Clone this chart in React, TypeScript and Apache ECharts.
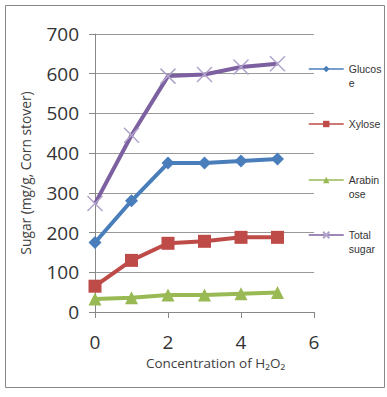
import React, { useEffect, useRef } from "react";
import * as echarts from "echarts";

const xValues = [0, 1, 2, 3, 4, 5];
const glucose = [175, 280, 375, 375, 380, 385];
const xylose = [65, 130, 173, 178, 188, 188];
const arabinose = [33, 36, 43, 43, 46, 49];
const totalSugar = [273, 445, 594, 598, 617, 625];

const seriesNames = ["Glucose", "Xylose", "Arabinose", "Total sugar"];
const legendLabels = ["Glucos\ne", "Xylose", "Arabin\nose", "Total\nsugar"];
const xTicks = { min: 0, max: 6, interval: 2 };
const yTicks = { min: 0, max: 700, interval: 100 };

const pair = (vals: number[]) => xValues.map((x, i) => [x, vals[i]]);

export default function App() {
  const ref = useRef<HTMLDivElement>(null);
  useEffect(() => {
    if (!ref.current) return;
    const chart = echarts.init(ref.current, undefined, { renderer: "svg" });
    const font = "'Open Sans', 'Liberation Sans', sans-serif";
    const legendFont = "'Liberation Sans', Arial, sans-serif";
    const crossPath = "path://M0,0L10,10M10,0L0,10";
    const iconCenters = [69, 124, 180, 235];
    const legends = seriesNames.map((n, i) => {
      const two = legendLabels[i].includes("\n");
      const label = two ? " \n" + legendLabels[i] : legendLabels[i];
      const h = two ? 42 : 14;
      return {
        data: [n],
        left: 308,
        top: iconCenters[i] - h / 2,
        padding: 0,
        itemWidth: 35,
        itemHeight: 8,
        lineStyle: { width: 1.5 },
        formatter: () => label,
        textStyle: {
          fontFamily: legendFont,
          fontSize: 10.5,
          color: "#333",
          lineHeight: 14,
        },
      };
    });
    chart.setOption({
      animation: false,
      backgroundColor: "#fff",
      graphic: [
        {
          type: "rect",
          shape: { x: 5.5, y: 5.5, width: 379, height: 382 },
          style: { fill: "none", stroke: "#888", lineWidth: 1 },
        },
      ],
      legend: legends,
      grid: { left: 95, right: 73, top: 34, bottom: 85 },
      xAxis: {
        type: "value",
        ...xTicks,
        name: "Concentration of H₂O₂",
        nameLocation: "middle",
        nameGap: 41,
        nameTextStyle: { fontFamily: font, fontSize: 13.5, color: "#404040", padding: [0, 0, 0, 22] },
        axisLine: { show: true, lineStyle: { color: "#888", width: 1 } },
        axisTick: { show: true, length: 6, lineStyle: { color: "#888" } },
        axisLabel: { fontFamily: font, fontSize: 19, color: "#333", margin: 20 },
        splitLine: { show: false },
      },
      yAxis: {
        type: "value",
        ...yTicks,
        name: "Sugar (mg/g, Corn stover)",
        nameLocation: "middle",
        nameGap: 63,
        nameTextStyle: { fontFamily: font, fontSize: 13.8, color: "#404040" },
        axisLine: { show: true, lineStyle: { color: "#888", width: 1 } },
        axisTick: { show: true, length: 6, lineStyle: { color: "#888" } },
        axisLabel: { fontFamily: font, fontSize: 19, color: "#333", margin: 16 },
        splitLine: { show: true, lineStyle: { color: "#999", width: 1 } },
      },
      series: [
        {
          name: "Glucose",
          type: "line",
          data: pair(glucose),
          symbol: "diamond",
          symbolSize: 13,
          color: "#4A7EBB",
          lineStyle: { width: 4, color: "#4A7EBB" },
          itemStyle: { color: "#4A7EBB" },
          z: 3,
        },
        {
          name: "Xylose",
          type: "line",
          data: pair(xylose),
          symbol: "rect",
          symbolSize: 13,
          color: "#BE4B48",
          lineStyle: { width: 4, color: "#BE4B48" },
          itemStyle: { color: "#BE4B48" },
          z: 3,
        },
        {
          name: "Arabinose",
          type: "line",
          data: pair(arabinose),
          symbol: "triangle",
          symbolSize: 13,
          color: "#98B954",
          lineStyle: { width: 4, color: "#98B954" },
          itemStyle: { color: "#98B954" },
          z: 3,
        },
        {
          name: "Total sugar",
          type: "line",
          data: pair(totalSugar),
          symbol: crossPath,
          symbolSize: 15,
          color: "#7D60A0",
          lineStyle: { width: 4, color: "#7D60A0" },
          itemStyle: { color: "none", borderColor: "#B0A4CC", borderWidth: 1.5 },
          z: 3,
        },
      ],
    });
    return () => chart.dispose();
  }, []);
  return (
    <div
      ref={ref}
      style={{ position: "fixed", left: 0, top: 0, width: 387, height: 397 }}
    />
  );
}
